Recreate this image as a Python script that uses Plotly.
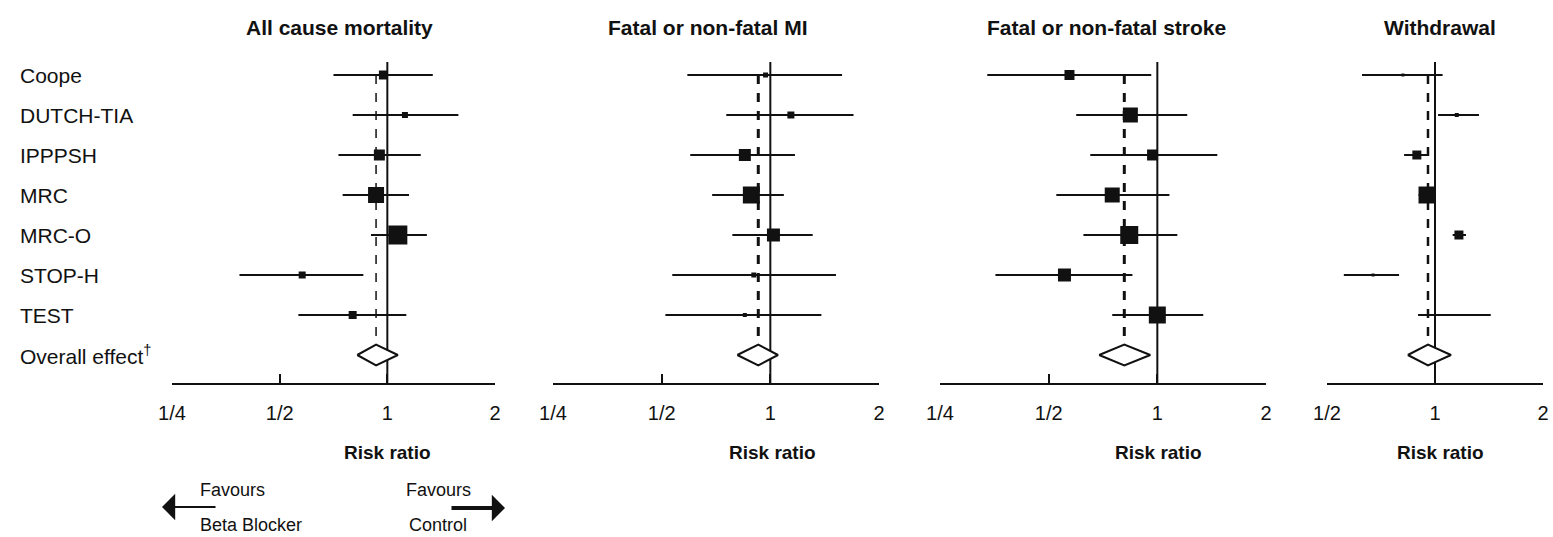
import math
import plotly.graph_objects as go

W, H = 1553, 537
FONT = "Liberation Sans, Arial, sans-serif"
INK = "#111111"

studies = ["Coope", "DUTCH-TIA", "IPPPSH", "MRC", "MRC-O", "STOP-H", "TEST"]
overall_label = "Overall effect<sup>†</sup>"

titles = ["All cause mortality", "Fatal or non-fatal MI", "Fatal or non-fatal stroke", "Withdrawal"]

# risk ratio estimates, lower CI, upper CI, study weights (box size)
mort_rr = [0.975, 1.12, 0.95, 0.93, 1.07, 0.578, 0.80]
mort_lo = [0.707, 0.80, 0.73, 0.75, 0.90, 0.386, 0.564]
mort_hi = [1.34, 1.58, 1.24, 1.15, 1.29, 0.857, 1.13]
mort_w = [9, 6, 11, 16, 19, 7, 8]
mort_overall = [0.93, 0.824, 1.07]

mi_rr = [0.97, 1.14, 0.85, 0.886, 1.02, 0.90, 0.85]
mi_lo = [0.589, 0.755, 0.60, 0.69, 0.785, 0.535, 0.512]
mi_hi = [1.58, 1.70, 1.17, 1.09, 1.31, 1.52, 1.385]
mi_w = [5, 7, 12, 17, 13, 5, 4]
mi_overall = [0.926, 0.81, 1.05]

stroke_rr = [0.571, 0.842, 0.97, 0.75, 0.836, 0.553, 1.0]
stroke_lo = [0.338, 0.596, 0.652, 0.525, 0.624, 0.356, 0.75]
stroke_hi = [0.962, 1.21, 1.466, 1.08, 1.136, 0.853, 1.34]
stroke_w = [10, 15, 11, 15, 18, 13, 17]
stroke_overall = [0.81, 0.69, 0.956]

wd_rr = [0.814, 1.15, 0.89, 0.95, 1.166, 0.672, 1.13]
wd_lo = [0.626, 1.02, 0.82, 0.90, 1.12, 0.557, 0.897]
wd_hi = [1.05, 1.326, 0.956, 1.0, 1.22, 0.794, 1.43]
wd_w = [3, 4, 9, 17, 9, 3, 2]
wd_overall = [0.956, 0.84, 1.108]

tick_vals_a = [0.25, 0.5, 1, 2]
tick_text_a = ["1/4", "1/2", "1", "2"]
tick_vals_b = [0.5, 1, 2]
tick_text_b = ["1/2", "1", "2"]

panels = [
    (mort_rr, mort_lo, mort_hi, mort_w, mort_overall, tick_vals_a, tick_text_a, 1.5),
    (mi_rr, mi_lo, mi_hi, mi_w, mi_overall, tick_vals_a, tick_text_a, 3),
    (stroke_rr, stroke_lo, stroke_hi, stroke_w, stroke_overall, tick_vals_a, tick_text_a, 3),
    (wd_rr, wd_lo, wd_hi, wd_w, wd_overall, tick_vals_b, tick_text_b, 2.5),
]

# layout geometry (pixels)
x_px = [(172, 495), (553, 879), (940, 1266), (1327, 1543)]
title_cx = [339, 708, 1106, 1440]
rr_cx = [387, 772, 1158, 1440]
plot_top, plot_bot = 62, 383
y_range = [7.7, -0.325]
dom_y = [1 - plot_bot / H, 1 - plot_top / H]
n = len(studies)
rows = list(range(n))
orow = n
half_h = 0.26


def px(v):
    return v / W


def py(v):
    return 1 - v / H


fig = go.Figure()
layout = dict(
    width=W, height=H, margin=dict(l=0, r=0, t=0, b=0, pad=0, autoexpand=False),
    autosize=False,
    plot_bgcolor="white", paper_bgcolor="white", showlegend=False,
    font=dict(family=FONT, color=INK),
)
annotations = []

for k, (rr, lo, hi, w, ov, tv, tt, dashw) in enumerate(panels):
    xa = "x" if k == 0 else f"x{k+1}"
    ya = "y" if k == 0 else f"y{k+1}"
    # null line at 1
    fig.add_trace(go.Scatter(x=[1, 1], y=[y_range[1], y_range[0]], mode="lines",
                             line=dict(color=INK, width=2), xaxis=xa, yaxis=ya, hoverinfo="skip"))
    # dashed overall line
    fig.add_trace(go.Scatter(x=[ov[0], ov[0]], y=[0, orow - half_h], mode="lines",
                             line=dict(color=INK, width=dashw, dash="dash"), xaxis=xa, yaxis=ya,
                             hoverinfo="skip"))
    # CI lines
    cx, cy = [], []
    for i in rows:
        cx += [lo[i], hi[i], None]
        cy += [i, i, None]
    fig.add_trace(go.Scatter(x=cx, y=cy, mode="lines", line=dict(color=INK, width=2),
                             xaxis=xa, yaxis=ya, hoverinfo="skip"))
    # boxes
    fig.add_trace(go.Scatter(x=rr, y=rows, mode="markers",
                             marker=dict(symbol="square", size=w, color=INK, opacity=1,
                                         line=dict(width=0)),
                             xaxis=xa, yaxis=ya))
    # diamond
    fig.add_trace(go.Scatter(x=[ov[1], ov[0], ov[2], ov[0], ov[1]],
                             y=[orow, orow - half_h, orow, orow + half_h, orow],
                             mode="lines", fill="toself", fillcolor="white",
                             line=dict(color=INK, width=2), xaxis=xa, yaxis=ya, hoverinfo="skip"))
    x0, x1 = x_px[k]
    xkey = "xaxis" if k == 0 else f"xaxis{k+1}"
    ykey = "yaxis" if k == 0 else f"yaxis{k+1}"
    layout[xkey] = dict(
        domain=[px(x0), px(x1)], anchor=ya, type="log", automargin=False,
        range=[math.log10(tv[0]), math.log10(tv[-1])],
        tickvals=tv, ticktext=tt, ticks="inside", ticklen=9, tickwidth=2, tickcolor=INK,
        showline=True, linecolor=INK, linewidth=2, showgrid=False, zeroline=False,
        tickfont=dict(size=20, color=INK, family=FONT), ticklabelstandoff=11,
    )
    layout[ykey] = dict(domain=dom_y, anchor=xa, range=y_range, visible=False,
                        showgrid=False, zeroline=False, automargin=False)
    annotations.append(dict(text=f"<b>{titles[k]}</b>", x=px(title_cx[k]), y=py(28),
                            xref="paper", yref="paper", showarrow=False,
                            font=dict(size=21, color=INK), xanchor="center", yanchor="middle"))
    annotations.append(dict(text="<b>Risk ratio</b>", x=px(rr_cx[k]), y=py(452),
                            xref="paper", yref="paper", showarrow=False,
                            font=dict(size=19, color=INK), xanchor="center", yanchor="middle"))

# row labels
for i, s in enumerate(studies + [overall_label]):
    annotations.append(dict(text=s, x=px(18), y=i, xref="paper", yref="y", showarrow=False,
                            xanchor="left", yanchor="middle", font=dict(size=21, color=INK)))

# favours arrows
annotations += [
    dict(text="", x=px(162), y=py(507), xref="paper", yref="paper", ax=55, ay=0,
         showarrow=True, arrowhead=1, arrowsize=2.2, arrowwidth=2, arrowcolor=INK, standoff=0),
    dict(text="", x=px(505), y=py(508), xref="paper", yref="paper", ax=-55, ay=0,
         showarrow=True, arrowhead=1, arrowsize=1.1, arrowwidth=4, arrowcolor=INK, standoff=0),
    dict(text="Favours", x=px(198), y=py(490), xref="paper", yref="paper", showarrow=False,
         xanchor="left", yanchor="middle", font=dict(size=18, color=INK)),
    dict(text="Beta Blocker", x=px(198), y=py(525), xref="paper", yref="paper", showarrow=False,
         xanchor="left", yanchor="middle", font=dict(size=18, color=INK)),
    dict(text="Favours", x=px(438), y=py(490), xref="paper", yref="paper", showarrow=False,
         xanchor="center", yanchor="middle", font=dict(size=18, color=INK)),
    dict(text="Control", x=px(438), y=py(525), xref="paper", yref="paper", showarrow=False,
         xanchor="center", yanchor="middle", font=dict(size=18, color=INK)),
]
layout["annotations"] = annotations
fig.update_layout(**layout)
fig.write_html("out.html")
